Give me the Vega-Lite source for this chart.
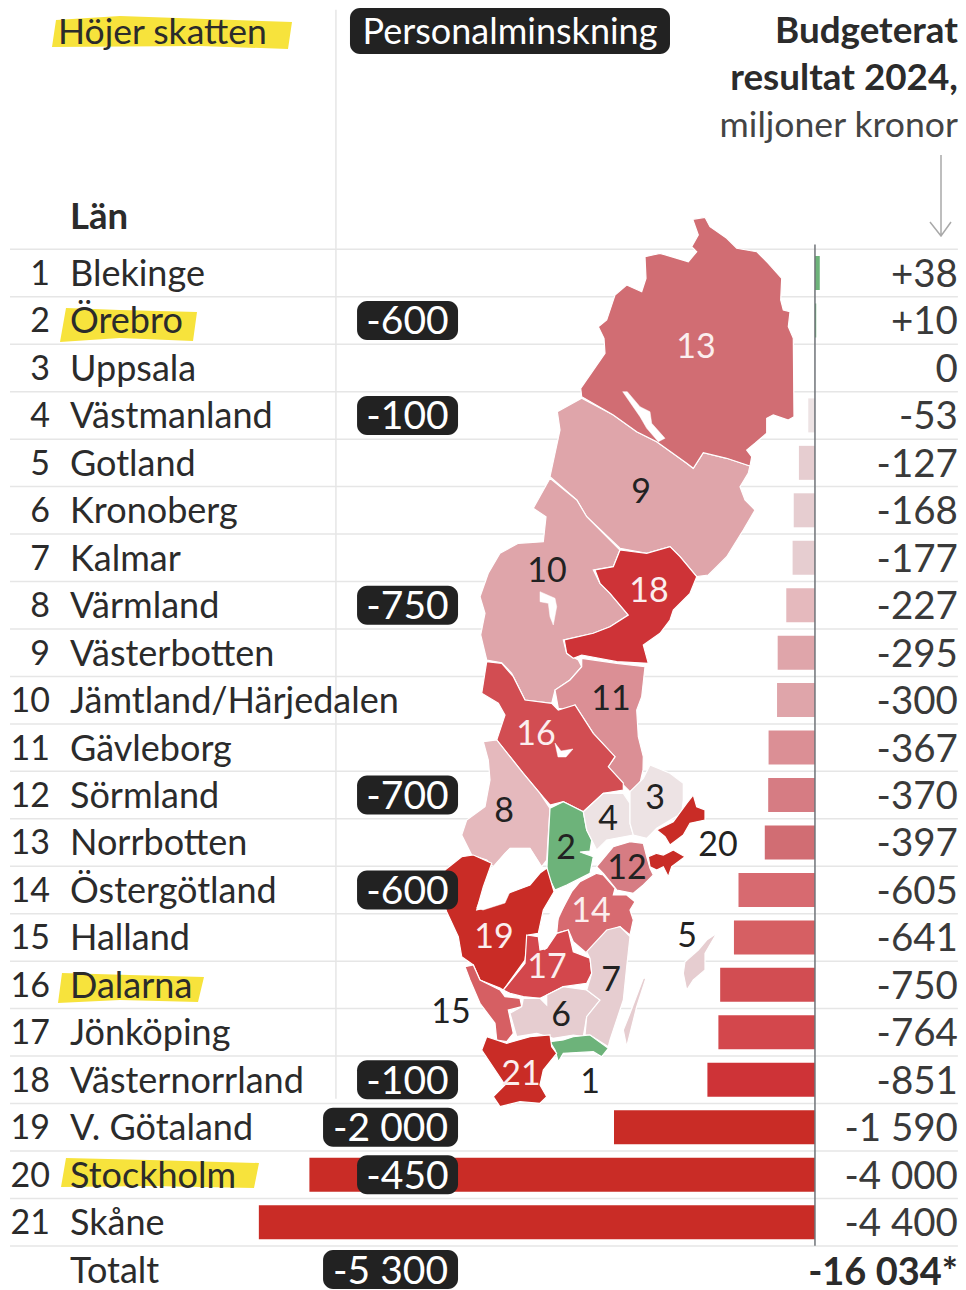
{
"$schema":"https://vega.github.io/schema/vega-lite/v6.json",
"width":966,"height":1290,"padding":0,"autosize":{"type":"none"},
"background":"white",
"config":{"axis":{"disable":true},"view":{"stroke":null},"text":{"font":"Lato","fontSize":36,"color":"#2b2b2b","dy":2}},
"datasets":{
"rows":[
{"rank":1,"lan":"Blekinge","budget":38,"label":"+38"},
{"rank":2,"lan":"Örebro","budget":10,"label":"+10","personal":-600,"plabel":"-600"},
{"rank":3,"lan":"Uppsala","budget":0,"label":"0"},
{"rank":4,"lan":"Västmanland","budget":-53,"label":"-53","personal":-100,"plabel":"-100"},
{"rank":5,"lan":"Gotland","budget":-127,"label":"-127"},
{"rank":6,"lan":"Kronoberg","budget":-168,"label":"-168"},
{"rank":7,"lan":"Kalmar","budget":-177,"label":"-177"},
{"rank":8,"lan":"Värmland","budget":-227,"label":"-227","personal":-750,"plabel":"-750"},
{"rank":9,"lan":"Västerbotten","budget":-295,"label":"-295"},
{"rank":10,"lan":"Jämtland/Härjedalen","budget":-300,"label":"-300"},
{"rank":11,"lan":"Gävleborg","budget":-367,"label":"-367"},
{"rank":12,"lan":"Sörmland","budget":-370,"label":"-370","personal":-700,"plabel":"-700"},
{"rank":13,"lan":"Norrbotten","budget":-397,"label":"-397"},
{"rank":14,"lan":"Östergötland","budget":-605,"label":"-605","personal":-600,"plabel":"-600"},
{"rank":15,"lan":"Halland","budget":-641,"label":"-641"},
{"rank":16,"lan":"Dalarna","budget":-750,"label":"-750"},
{"rank":17,"lan":"Jönköping","budget":-764,"label":"-764"},
{"rank":18,"lan":"Västernorrland","budget":-851,"label":"-851","personal":-100,"plabel":"-100"},
{"rank":19,"lan":"V. Götaland","budget":-1590,"label":"-1 590","personal":-2000,"plabel":"-2 000"},
{"rank":20,"lan":"Stockholm","budget":-4000,"label":"-4 000","personal":-450,"plabel":"-450"},
{"rank":21,"lan":"Skåne","budget":-4400,"label":"-4 400"},
{"rank":22,"lan":"Totalt","budget":-16034,"label":"-16 034*","personal":-5300,"plabel":"-5 300"}
],
"labels":[
{"n":1,"lon":590,"lat":1081},{"n":2,"lon":566,"lat":847},{"n":3,"lon":655,"lat":797},{"n":4,"lon":608,"lat":818},{"n":5,"lon":687,"lat":935},{"n":6,"lon":561,"lat":1014},{"n":7,"lon":611,"lat":979},{"n":8,"lon":504,"lat":810},{"n":9,"lon":641,"lat":491},{"n":10,"lon":547,"lat":570},{"n":11,"lon":611,"lat":698},{"n":12,"lon":627,"lat":867},{"n":13,"lon":696,"lat":346},{"n":14,"lon":591,"lat":910},{"n":15,"lon":451,"lat":1011},{"n":16,"lon":536,"lat":733},{"n":17,"lon":547,"lat":966},{"n":18,"lon":649,"lat":590},{"n":19,"lon":494,"lat":936},{"n":20,"lon":718,"lat":844},{"n":21,"lon":521,"lat":1073}
],
"regions":[
{"type":"Feature","properties":{"budget":-295},"geometry":{"type":"Polygon","coordinates":[[[557.3,411.7],[581.7,398.3],[613.3,415],[636.7,431.7],[656.7,441.7],[686.7,463.3],[693.3,468.3],[703.3,452.7],[726.7,458.3],[750,466],[748.3,473],[740,486.7],[745,500],[755,510],[743.3,530],[726.7,556.7],[716.7,566.7],[708.3,575],[696.7,576.7],[680,556.7],[670,546.7],[646.7,553.3],[620,548.3],[586.7,516.7],[576.7,500],[550,476.7],[560,430],[557.3,411.7]]]}},
{"type":"Feature","properties":{"budget":-397},"geometry":{"type":"Polygon","coordinates":[[[692.7,219.3],[705,217.3],[710,226.7],[726.7,238.3],[736.7,248.3],[756.7,251.7],[768.3,263.3],[781.7,278.3],[780.7,300],[783.3,310],[790,311.7],[788.3,326.7],[793.3,338.3],[794,416.7],[788.3,420],[773.3,415],[766.7,418.3],[766.7,433.3],[755,443.3],[746.7,450],[751.7,456.7],[750,466],[726.7,458.3],[703.3,452.7],[693.3,468.3],[686.7,463.3],[656.7,441.7],[636.7,431.7],[613.3,415],[581.7,396.7],[580.7,388.3],[605,353.3],[604,338.3],[598.3,326.7],[606.7,320],[615,295],[626.7,285],[641.7,291.7],[646,278.3],[645,256.7],[660,253.3],[688.3,261.7],[696.7,251.7],[691.7,246.7],[698.3,235],[692.7,219.3]]]}},
{"type":"Feature","properties":{"budget":-300},"geometry":{"type":"Polygon","coordinates":[[[550,478.3],[533.3,508.3],[546,516.7],[543.3,541.7],[518.3,543.3],[500,553.3],[488.3,573.3],[480,596.7],[485,613.3],[480.7,635],[486.7,660],[501.7,662.7],[511.7,673.3],[525,700],[551.7,703.3],[555,690],[570,680],[581.7,666.7],[578.3,660],[566.7,653.3],[563.3,640],[593.3,633.3],[610,626.7],[628.3,615],[610,593.3],[600,583.3],[593.3,570],[613.3,566.7],[620,550],[586.7,516.7],[576.7,500],[550,478.3]]]}},
{"type":"Feature","properties":{"budget":-851},"geometry":{"type":"Polygon","coordinates":[[[620,550],[646.7,553.3],[670,546.7],[680,556.7],[696.7,576.7],[690,593.3],[673.3,610],[670,620],[660,633.3],[643.3,645],[648.3,663.3],[616.7,661.7],[581.7,655],[573.3,658.3],[566.7,653.3],[564.3,640],[593.3,633.3],[610,626.7],[628.3,615],[610,593.3],[600,583.3],[595,570],[613.3,566.7],[620,550]]]}},
{"type":"Feature","properties":{"budget":-367},"geometry":{"type":"Polygon","coordinates":[[[581.7,658.3],[616.7,663.3],[645,666.7],[641.7,696.7],[636.7,710],[638.3,736.7],[643.3,756.7],[643,770],[640,783],[630,791.7],[608.3,770],[608.3,766.7],[615,756.7],[593.3,733.3],[575,705],[570,710],[558.3,708.3],[555,690],[570,680],[581.7,666.7],[581.7,658.3]]]}},
{"type":"Feature","properties":{"budget":-750},"geometry":{"type":"Polygon","coordinates":[[[486.7,661.7],[501.7,663.3],[513.3,676.7],[525,700],[551.7,703.3],[558.3,710],[575,705],[593.3,733.3],[615,756.7],[608.3,766.7],[623.3,783],[623.3,790],[603.3,793.3],[583.3,811.7],[563.3,801.7],[550,805],[540,793.3],[523.3,773.3],[510,756.7],[496.7,740],[505,715],[498.3,703.3],[481.7,693.3],[486.7,661.7]]]}},
{"type":"Feature","properties":{"budget":-227},"geometry":{"type":"Polygon","coordinates":[[[483.3,741.7],[496.7,740],[510,756.7],[523.3,773.3],[540,793.3],[550,808.3],[546.7,860],[541.7,866.7],[530,848.3],[510,848.3],[505,853.3],[493.3,866.7],[486.7,860],[471.7,855],[461.7,835],[466.7,820],[485,806.7],[490,780],[488.3,760],[483.3,741.7]]]}},
{"type":"Feature","properties":{"budget":10},"geometry":{"type":"Polygon","coordinates":[[[550,808.3],[563.3,801.7],[583.3,811.7],[586.7,830],[591.7,840],[590,851],[580,852],[593.3,856.7],[590,873.3],[566.7,885],[555,890],[546.7,873.3],[548.3,840],[550,808.3]]]}},
{"type":"Feature","properties":{"budget":-53},"geometry":{"type":"Polygon","coordinates":[[[583.3,811.7],[603.3,793.3],[623.3,793.3],[630,803.3],[630,823.3],[633.3,835],[606.7,840],[596.7,850],[591.7,840],[586.7,830],[583.3,811.7]]]}},
{"type":"Feature","properties":{"budget":0},"geometry":{"type":"Polygon","coordinates":[[[630,791.7],[643.3,778.3],[650,765],[670,773.3],[683.3,783.3],[683.3,800],[681.7,813.3],[656.7,828.3],[646.7,838.3],[633.3,835],[630,823.3],[630,803.3],[630,791.7]]]}},
{"type":"Feature","properties":{"budget":-4000},"geometry":{"type":"MultiPolygon","coordinates":[[[[693.3,795],[696.7,806.7],[705,810],[705,820],[690,823.3],[683.3,835],[670,845],[665,836.7],[656.7,830],[673.3,821.7],[686.7,803.3],[693.3,795]]],[[[648.3,856.7],[656.7,853.3],[663.3,855],[673.3,850],[685,856.7],[671.7,866.7],[668.3,876.7],[663.3,866.7],[656.7,870],[650,866.7],[648.3,856.7]]]]}},
{"type":"Feature","properties":{"budget":-370},"geometry":{"type":"Polygon","coordinates":[[[596.7,866.7],[613.3,846.7],[630,841.7],[643.3,843.3],[646.7,856.7],[650,868.3],[653.3,875],[643.3,885],[633.3,893.3],[616.7,890],[603.3,873.3],[596.7,866.7]]]}},
{"type":"Feature","properties":{"budget":-605},"geometry":{"type":"Polygon","coordinates":[[[596.7,873.3],[603.3,875],[615,888.3],[613.3,895],[626.7,895],[635,901.7],[630,910],[633.3,920],[630,935],[620,926.7],[606.7,931.7],[605,943.3],[586.7,953.3],[573.3,941.7],[568.3,930],[556.7,933.3],[558.3,916.7],[571.7,891.7],[580,881.7],[596.7,873.3]]]}},
{"type":"Feature","properties":{"budget":-1590},"geometry":{"type":"Polygon","coordinates":[[[461.7,856.7],[473.3,855],[491.7,863.3],[483.3,886.7],[476.7,910],[490,906.7],[508.3,893.3],[530,885],[540,873],[547,868],[554,891.7],[543.3,910],[538.3,933.3],[528.3,935],[525,960],[503.3,990],[500,988],[480,980],[473.3,965],[461.7,956.7],[458.3,936.7],[446.7,911.7],[443,900],[445,870],[461.7,856.7]]]}},
{"type":"Feature","properties":{"budget":-764},"geometry":{"type":"Polygon","coordinates":[[[526.7,935],[538.3,936.7],[540,950],[546.7,948.3],[556.7,933.3],[568.3,930],[573.3,951.7],[590,958.3],[591.7,973.3],[586.7,983.3],[563.3,986.7],[546.7,995],[540,998.3],[523.3,996.7],[510,993.3],[503.3,990],[525,963.3],[526.7,935]]]}},
{"type":"Feature","properties":{"budget":-641},"geometry":{"type":"Polygon","coordinates":[[[465,966.7],[473.3,965],[480,980],[500,990],[505,996.7],[520,998.3],[521.7,1006.7],[508.3,1010],[513.3,1033.3],[506.7,1041.7],[496.7,1040],[495,1023.3],[480,1003.3],[470,980],[465,966.7]]]}},
{"type":"Feature","properties":{"budget":-168},"geometry":{"type":"Polygon","coordinates":[[[523.3,998.3],[540,998.3],[546.7,1005],[546.7,995],[563.3,986.7],[586.7,990],[600,1000],[586.7,1016.7],[583.3,1036.7],[573.3,1035],[553.3,1038.3],[536.7,1033.3],[516.7,1036.7],[510,1013.3],[521.7,1006.7],[523.3,998.3]]]}},
{"type":"Feature","properties":{"budget":-177},"geometry":{"type":"MultiPolygon","coordinates":[[[[586.7,951.7],[606.7,930],[620,926.7],[630,936.7],[626.7,966.7],[623.3,1000],[610,1040],[608.3,1046.7],[590,1035],[585,1035],[586.7,1016.7],[600,1000],[586.7,990],[591.7,973.3],[590,958.3],[586.7,951.7]]],[[[643.3,978.3],[646,978],[636.7,1006.7],[626.7,1046.7],[623.3,1030],[630,1013.3],[643.3,978.3]]]]}},
{"type":"Feature","properties":{"budget":-127},"geometry":{"type":"Polygon","coordinates":[[[716.7,933.3],[706.7,940],[698.3,950],[685,961.7],[683.3,973.3],[686.7,990],[693.3,980],[705,970],[705,953.3],[716.7,933.3]]]}},
{"type":"Feature","properties":{"budget":38},"geometry":{"type":"Polygon","coordinates":[[[550,1041.7],[563.3,1040],[573.3,1036.7],[590,1035],[608.3,1048.3],[601.7,1056.7],[593.3,1051.7],[563.3,1053.3],[558.3,1061.7],[555,1050],[550,1041.7]]]}},
{"type":"Feature","properties":{"budget":-4400},"geometry":{"type":"Polygon","coordinates":[[[486.7,1036.7],[506.7,1043.3],[530,1036.7],[550,1035],[551.7,1046.7],[556.7,1053.3],[543.3,1070],[540,1085],[546.7,1096.7],[540,1103.3],[520,1101.7],[500,1106.7],[493.3,1096.7],[505,1085],[481.7,1050],[486.7,1036.7]]]}}
],
"water":[
{"type":"Feature","properties":{"sjo":"Hornavan"},"geometry":{"type":"Polygon","coordinates":[[[622.7,391.7],[627.3,391.7],[640,406.7],[650,411.7],[651.7,423.3],[665,438.3],[658.3,441.7],[646.7,428.3],[640,416.7],[622.7,391.7]]]}},
{"type":"Feature","properties":{"sjo":"Storsjön"},"geometry":{"type":"Polygon","coordinates":[[[540,591.7],[555,598.3],[556.7,606.7],[553.3,625],[550,616.7],[548.3,603.3],[540,601.7],[540,591.7]]]}},
{"type":"Feature","properties":{"sjo":"Siljan"},"geometry":{"type":"Polygon","coordinates":[[[555,743],[561,751],[573,749],[566,757],[558,757],[555,743]]]}},
{"type":"Feature","properties":{"sjo":"Vänern"},"geometry":{"type":"Polygon","coordinates":[[[505,853.3],[510,848.3],[530,848.3],[541.7,866.7],[530,885],[510,891.7],[505,903],[483,910],[476.7,908],[485,886.7],[493.3,866.7],[505,853.3]]]}},
{"type":"Feature","properties":{"sjo":"Vättern"},"geometry":{"type":"Polygon","coordinates":[[[568.3,888.3],[560,893.3],[548.3,916.7],[540,946.7],[545,950],[555,926.7],[566.7,900],[568.3,888.3]]]}}
],
"marks":[
{"type":"Feature","properties":{"namn":"Höjer skatten"},"geometry":{"type":"Polygon","coordinates":[[[56,20],[120,16],[292,22],[288,49],[200,46],[52,47],[56,20]]]}},
{"type":"Feature","properties":{"namn":"Örebro"},"geometry":{"type":"Polygon","coordinates":[[[66,308],[120,310],[197,312],[193,341],[120,338],[60,342],[66,308]]]}},
{"type":"Feature","properties":{"namn":"Dalarna"},"geometry":{"type":"Polygon","coordinates":[[[62,973],[130,975],[204,977],[198,1002],[120,1000],[58,1003],[62,973]]]}},
{"type":"Feature","properties":{"namn":"Stockholm"},"geometry":{"type":"Polygon","coordinates":[[[66,1158],[150,1160],[259,1163],[254,1188],[150,1186],[61,1187],[66,1158]]]}}
],
"arrow":[
{"type":"Feature","properties":{},"geometry":{"type":"MultiLineString","coordinates":[[[941,155],[941,235]],[[930,222],[941,236],[951,222]]]}}
]
},
"layer":[
{"data":{"name":"rows"},"mark":{"type":"rule","stroke":"#e6e6e6","strokeWidth":1.5,"yOffset":-23.7},
 "encoding":{"y":{"field":"rank","type":"quantitative","scale":{"domain":[-4.753,22.43],"range":[0,1290],"nice":false,"zero":false,"padding":0}},
 "x":{"datum":-6369,"type":"quantitative","scale":{"domain":[-6448,1195],"range":[0,966],"nice":false,"zero":false,"padding":0}},
 "x2":{"datum":1131}}},
{"data":{"values":[{"from":-4.55,"to":18.4}]},"mark":{"type":"rule","stroke":"#e6e6e6","strokeWidth":1.5},
 "encoding":{"x":{"datum":-3790,"type":"quantitative"},"y":{"field":"from","type":"quantitative"},"y2":{"field":"to"}}},
{"data":{"name":"marks"},"mark":{"type":"geoshape","fill":"#F7E33C","stroke":null},"projection":{"type":"identity","scale":1,"translate":[0,0]}},
{"data":{"name":"arrow"},"mark":{"type":"geoshape","filled":false,"stroke":"#a9a9a9","strokeWidth":1.5},"projection":{"type":"identity","scale":1,"translate":[0,0]}},
{"data":{"name":"rows"},"transform":[{"filter":{"field":"rank","lte":21}}],
 "mark":{"type":"bar","orient":"horizontal","size":34},
 "encoding":{"y":{"field":"rank","type":"quantitative"},"x":{"field":"budget","type":"quantitative","stack":null},"x2":{"datum":0},
 "color":{"field":"budget","type":"quantitative","legend":null,"scale":{"type":"threshold","domain":[-1000,-800,-757,-700,-620,-500,-385,-368.5,-340,-260,-200,-100,5],"range":["#C92C26","#CE3337","#D3474C","#D24D52","#D65F63","#D76A70","#D16D73","#D67C83","#DB8F95","#DFA5AA","#E5B9BD","#E6CDD0","#EDE3E4","#6DB37A"]}}}},
{"data":{"values":[{"from":0.4,"to":21.5}]},"mark":{"type":"rule","stroke":"#6f7378","strokeWidth":1.5},
 "encoding":{"x":{"datum":0,"type":"quantitative"},"y":{"field":"from","type":"quantitative"},"y2":{"field":"to"}}},
{"data":{"name":"regions"},"mark":{"type":"geoshape","stroke":"white","strokeWidth":1.2},"projection":{"type":"identity","scale":1,"translate":[0,0]},
 "encoding":{"color":{"field":"properties.budget","type":"quantitative","legend":null,"scale":{"type":"threshold","domain":[-1000,-800,-757,-700,-620,-500,-385,-368.5,-340,-260,-200,-100,5],"range":["#C92C26","#CE3337","#D3474C","#D24D52","#D65F63","#D76A70","#D16D73","#D67C83","#DB8F95","#DFA5AA","#E5B9BD","#E6CDD0","#EDE3E4","#6DB37A"]}}}},
{"data":{"name":"water"},"mark":{"type":"geoshape","fill":"white","stroke":"white","strokeWidth":0.5},"projection":{"type":"identity","scale":1,"translate":[0,0]}},
{"data":{"name":"labels"},"transform":[{"filter":{"not":{"field":"n","oneOf":[13,14,16,17,18,19,21]}}}],"mark":{"type":"text","fontSize":34,"color":"#222"},"projection":{"type":"identity","scale":1,"translate":[0,0]},
 "encoding":{"longitude":{"field":"lon","type":"quantitative"},"latitude":{"field":"lat","type":"quantitative"},"text":{"field":"n"}}},
{"data":{"name":"labels"},"transform":[{"filter":{"field":"n","oneOf":[13,14,16,17,18,19,21]}}],"mark":{"type":"text","fontSize":34,"color":"#fbeeee"},"projection":{"type":"identity","scale":1,"translate":[0,0]},
 "encoding":{"longitude":{"field":"lon","type":"quantitative"},"latitude":{"field":"lat","type":"quantitative"},"text":{"field":"n"}}},
{"data":{"name":"rows"},"transform":[{"filter":"isValid(datum.personal) && datum.personal > -1000"}],
 "mark":{"type":"bar","orient":"horizontal","size":39,"cornerRadius":10,"color":"#222222"},
 "encoding":{"y":{"field":"rank","type":"quantitative"},"x":{"datum":-3623,"type":"quantitative"},"x2":{"datum":-2824}}},
{"data":{"name":"rows"},"transform":[{"filter":"isValid(datum.personal) && datum.personal <= -1000"}],
 "mark":{"type":"bar","orient":"horizontal","size":39,"cornerRadius":10,"color":"#222222"},
 "encoding":{"y":{"field":"rank","type":"quantitative"},"x":{"datum":-3892,"type":"quantitative"},"x2":{"datum":-2824}}},
{"data":{"values":[{"row":-4.1}]},"mark":{"type":"bar","orient":"horizontal","size":46,"cornerRadius":10,"color":"#222222"},
 "encoding":{"y":{"field":"row","type":"quantitative"},"x":{"datum":-3679,"type":"quantitative"},"x2":{"datum":-1147}}},
{"data":{"name":"rows"},"transform":[{"filter":"isValid(datum.personal) && datum.personal > -1000"}],
 "mark":{"type":"text","color":"white","fontSize":39},
 "encoding":{"y":{"field":"rank","type":"quantitative"},"x":{"datum":-3224,"type":"quantitative"},"text":{"field":"plabel"}}},
{"data":{"name":"rows"},"transform":[{"filter":"isValid(datum.personal) && datum.personal <= -1000"}],
 "mark":{"type":"text","color":"white","fontSize":39},
 "encoding":{"y":{"field":"rank","type":"quantitative"},"x":{"datum":-3358,"type":"quantitative"},"text":{"field":"plabel"}}},
{"data":{"name":"rows"},"transform":[{"filter":{"field":"rank","lte":21}}],
 "mark":{"type":"text","align":"right","fontSize":34},
 "encoding":{"y":{"field":"rank","type":"quantitative"},"x":{"datum":-6052,"type":"quantitative"},"text":{"field":"rank"}}},
{"data":{"name":"rows"},"mark":{"type":"text","align":"left"},
 "encoding":{"y":{"field":"rank","type":"quantitative"},"x":{"datum":-5894,"type":"quantitative"},"text":{"field":"lan"}}},
{"data":{"name":"rows"},"transform":[{"filter":{"field":"rank","lte":21}}],
 "mark":{"type":"text","align":"right","color":"#3a3a3a","fontSize":38.5},
 "encoding":{"y":{"field":"rank","type":"quantitative"},"x":{"datum":1131,"type":"quantitative"},"text":{"field":"label"}}},
{"data":{"name":"rows"},"transform":[{"filter":{"field":"rank","equal":22}}],
 "mark":{"type":"text","align":"right","fontWeight":"bold","fontSize":38},
 "encoding":{"y":{"datum":22.05,"type":"quantitative"},"x":{"datum":1131,"type":"quantitative"},"text":{"field":"label"}}},
{"data":{"values":[{"t":"Län","row":-0.2}]},"mark":{"type":"text","align":"left","fontWeight":"bold","fontSize":36.5},
 "encoding":{"y":{"field":"row","type":"quantitative"},"x":{"datum":-5894,"type":"quantitative"},"text":{"field":"t"}}},
{"data":{"values":[{"t":"Höjer skatten","row":-4.1}]},"mark":{"type":"text","align":"left","fontSize":35.5},
 "encoding":{"y":{"field":"row","type":"quantitative"},"x":{"datum":-5989,"type":"quantitative"},"text":{"field":"t"}}},
{"data":{"values":[{"t":"Personalminskning","row":-4.1}]},"mark":{"type":"text","color":"white","fontSize":36},
 "encoding":{"y":{"field":"row","type":"quantitative"},"x":{"datum":-2413,"type":"quantitative"},"text":{"field":"t"}}},
{"data":{"values":[{"t":"Budgeterat","row":-4.12},{"t":"resultat 2024,","row":-3.13}]},"mark":{"type":"text","align":"right","fontWeight":"bold","fontSize":36.8},
 "encoding":{"y":{"field":"row","type":"quantitative"},"x":{"datum":1131,"type":"quantitative"},"text":{"field":"t"}}},
{"data":{"values":[{"t":"miljoner kronor","row":-2.13}]},"mark":{"type":"text","align":"right","color":"#444","fontSize":35.6},
 "encoding":{"y":{"field":"row","type":"quantitative"},"x":{"datum":1131,"type":"quantitative"},"text":{"field":"t"}}}
]
}
